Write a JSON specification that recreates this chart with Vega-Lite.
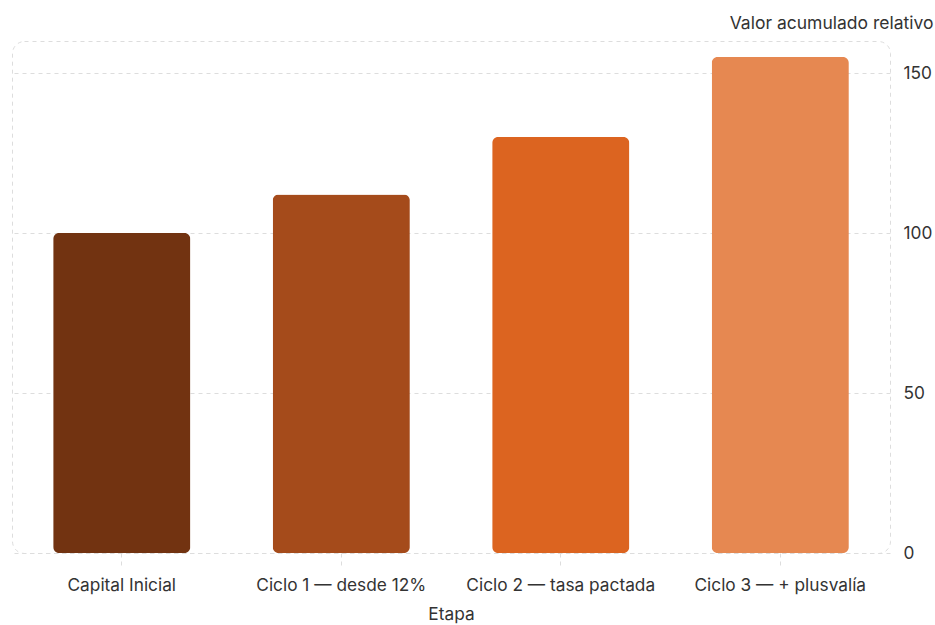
{
  "$schema": "https://vega.github.io/schema/vega-lite/v6.json",
  "width": 878,
  "height": 512,
  "padding": {"left": 12, "top": 41, "right": 45, "bottom": 72},
  "autosize": {"type": "none"},
  "background": "white",
  "config": {
    "font": "Inter",
    "view": {"stroke": "#dddddd", "strokeDash": [4, 4], "strokeWidth": 1, "cornerRadius": 12},
    "axis": {
      "labelFont": "Inter",
      "titleFont": "Inter",
      "labelColor": "#333333",
      "titleColor": "#333333",
      "titleFontWeight": "normal",
      "gridColor": "#dddddd",
      "gridDash": [4, 4],
      "domain": false
    }
  },
  "data": {
    "values": [
      {"etapa": "Capital Inicial", "valor": 100},
      {"etapa": "Ciclo 1 — desde 12%", "valor": 112},
      {"etapa": "Ciclo 2 — tasa pactada", "valor": 130},
      {"etapa": "Ciclo 3 — + plusvalía", "valor": 155}
    ]
  },
  "mark": {"type": "bar", "cornerRadius": 6},
  "encoding": {
    "x": {
      "field": "etapa",
      "type": "nominal",
      "sort": null,
      "title": "Etapa",
      "scale": {"paddingInner": 0.375, "paddingOuter": 0.1875},
      "axis": {
        "labelAngle": 0,
        "labelFontSize": 17.3,
        "labelLimit": 0,
        "titleFontSize": 17.3,
        "ticks": true,
        "tickColor": "#dddddd",
        "tickDash": [4, 4],
        "tickSize": 15,
        "labelPadding": 8,
        "titlePadding": 12,
        "grid": false
      }
    },
    "y": {
      "field": "valor",
      "type": "quantitative",
      "title": "Valor acumulado relativo",
      "scale": {"domain": [0, 160], "nice": false},
      "axis": {
        "orient": "right",
        "values": [0, 50, 100, 150],
        "labelFontSize": 17.3,
        "titleFontSize": 17.5,
        "ticks": false,
        "labelPadding": 13,
        "titleAngle": 0,
        "titleAlign": "right",
        "titleBaseline": "alphabetic",
        "titleX": 43,
        "titleY": -13,
        "grid": true
      }
    },
    "color": {
      "field": "etapa",
      "type": "nominal",
      "sort": null,
      "legend": null,
      "scale": {
        "domain": ["Capital Inicial", "Ciclo 1 — desde 12%", "Ciclo 2 — tasa pactada", "Ciclo 3 — + plusvalía"],
        "range": ["#723311", "#a54b1b", "#dc6420", "#e68851"]
      }
    }
  }
}
